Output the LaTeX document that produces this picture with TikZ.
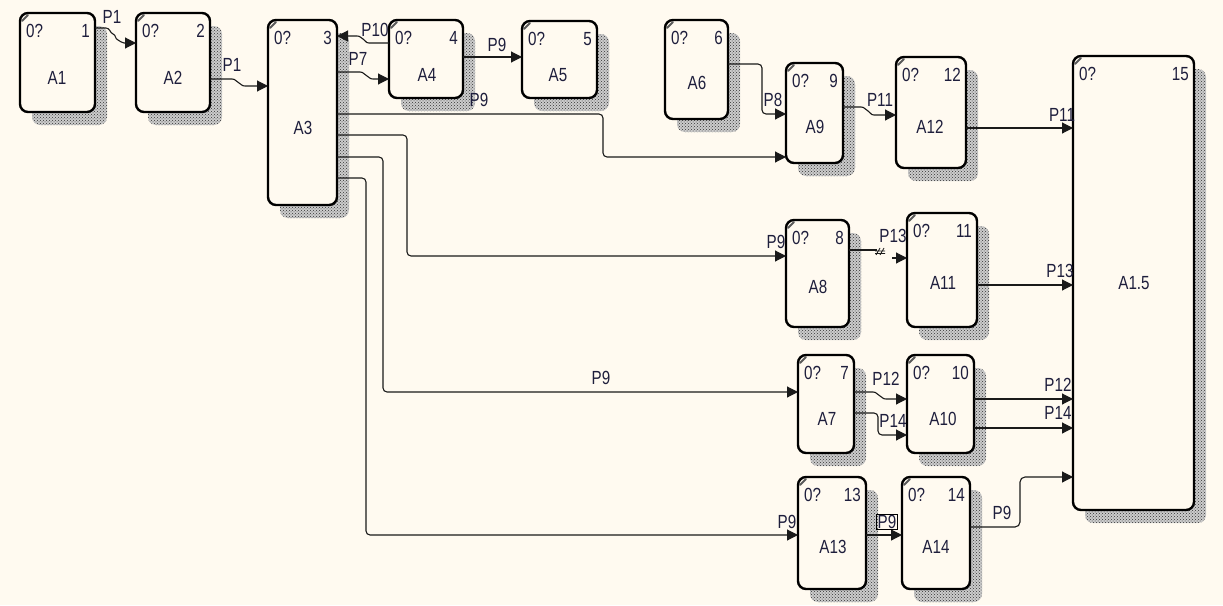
\documentclass[tikz,border=0pt]{standalone}
\usepackage{fontspec}
\setmainfont{Liberation Sans}[FakeStretch=0.8]
\usetikzlibrary{arrows.meta,patterns}
\definecolor{bg}{HTML}{FFFAF0}
\definecolor{txt}{HTML}{1E1E3C}
\definecolor{ln}{HTML}{1A1A1A}
\tikzset{
  box/.style={draw=black, line width=2.4pt, rounded corners=8pt, fill=bg, inner sep=0pt, outer sep=0pt},
  tag/.style={font=\fontsize{19}{21}\selectfont, text=txt, inner sep=0pt},
  lbl/.style={font=\fontsize{19}{21}\selectfont, text=txt, inner sep=0.5pt},
  arr/.style={draw=ln, line width=1.1pt, -{Triangle[length=11pt,width=11pt]}},
  wire/.style={draw=ln, line width=1.1pt},
  shad/.style={fill=gray!40, rounded corners=8pt},
  shadp/.style={pattern=crosshatch dots, pattern color=black!80, rounded corners=8pt}
}
\newcommand{\idefbox}[9]{%
  \fill[shad] (#2+12,#3+13) rectangle (#4+12,#5+13);
  \fill[shadp] (#2+12,#3+13) rectangle (#4+12,#5+13);
  \node[box, minimum width={(#4-#2)*1pt}, minimum height={(#5-#3)*1pt}] (#1) at ({(#2+#4)/2},{(#3+#5)/2}) {};
  \node[tag, anchor=west] (#1q) at ([xshift=6pt,yshift=-18pt]#1.north west) {0?};
  \node[tag, anchor=east] (#1n) at ([xshift=-5pt,yshift=-18pt]#1.north east) {#6};
  \node[tag] (#1t) at (#8,#9) {#7};
  \draw[gray!70!black, line width=2pt, line cap=round] ([xshift=2pt,yshift=-8pt]#1.north west) -- ([xshift=8pt,yshift=-2pt]#1.north west);
}
\begin{document}
\begin{tikzpicture}[x=1pt,y=-1pt]
\fill[bg] (0,0) rectangle (1223,605);
\useasboundingbox (0,0) rectangle (1223,605);

\idefbox{A1}{20}{13}{95}{112}{1}{A1}{57}{78}
\idefbox{A2}{136}{13}{210}{112}{2}{A2}{173}{78}
\idefbox{A3}{268}{20}{337}{205}{3}{A3}{303}{128}
\idefbox{A4}{389}{20}{463}{98}{4}{A4}{427}{75}
\idefbox{A5}{522}{21}{597}{98}{5}{A5}{558}{75}
\idefbox{A6}{665}{20}{728}{119}{6}{A6}{697}{83}
\idefbox{A9}{786}{63}{843}{163}{9}{A9}{815}{127}
\idefbox{A12}{896}{57}{966}{168}{12}{A12}{930}{127}
\idefbox{A8}{786}{220}{849}{327}{8}{A8}{818}{287}
\idefbox{A11}{907}{213}{977}{327}{11}{A11}{943}{283}
\idefbox{A7}{798}{355}{854}{453}{7}{A7}{827}{419}
\idefbox{A10}{907}{355}{974}{453}{10}{A10}{943}{419}
\idefbox{A13}{798}{477}{866}{589}{13}{A13}{833}{547}
\idefbox{A14}{902}{477}{970}{589}{14}{A14}{936}{547}
\idefbox{A15}{1073}{56}{1194}{510}{15}{A1.5}{1134}{283}

% A1 -> A2  P1
\draw[arr] (A1.east |- 0,28) -- (106,28) .. controls (110,28) and (110,33) .. (113,34)
  .. controls (116,35) and (115,39) .. (118,40) .. controls (121,41) and (121,43) .. (124,43) -- (A2.west |- 0,43);
\node[lbl] (p1a) at (112,17) {P1};
% A2 -> A3  P1
\draw[arr] (A2.east |- 0,79) -- (232,79) .. controls (236,79) and (236,82) .. (239,83)
  .. controls (242,84) and (241,86) .. (245,86) -- (A3.west |- 0,86);
\node[lbl] (p1b) at (232,65) {P1};
% A3 -> A4  P7
\draw[arr] (A3.east |- 0,72) -- (360,72) .. controls (364,72) and (364,75) .. (367,76)
  .. controls (370,77) and (369,79) .. (373,79) -- (A4.west |- 0,79);
\node[lbl] (p7) at (358,59) {P7};
% A4 -> A3  P10
\draw[arr] (A4.west |- 0,43) -- (369,43) .. controls (365,43) and (366,40) .. (363,39)
  .. controls (360,38) and (361,36) .. (357,36) -- (A3.east |- 0,36);
\node[lbl] (p10) at (375,30) {P10};
% A4 -> A5  P9
\draw[arr] (A4.east |- 0,57) -- (A5.west |- 0,57);
\node[lbl] (p9a) at (497,45) {P9};
% A3 -> A9  P9
\draw[arr, rounded corners=4pt] (A3.east |- 0,114) -- (603,114) -- (603,157) -- (A9.west |- 0,157);
\node[lbl] (p9b) at (479,100) {P9};
% A6 -> A9  P8
\draw[arr, rounded corners=4pt] (A6.east |- 0,64) -- (762,64) -- (762,114) -- (A9.west |- 0,114);
\node[lbl] (p8) at (773,100) {P8};
% A9 -> A12  P11
\draw[arr] (A9.east |- 0,107) -- (861,107) .. controls (865,107) and (865,110) .. (868,111)
  .. controls (871,112) and (870,115) .. (874,115) -- (A12.west |- 0,115);
\node[lbl] (p11a) at (880,100) {P11};
% A12 -> A15  P11
\draw[arr] (A12.east |- 0,128) -- (A15.west |- 0,128);
\node[lbl] (p11b) at (1062,115) {P11};
% A3 -> A8  P9
\draw[arr, rounded corners=4pt] (A3.east |- 0,135) -- (407,135) -- (407,256) -- (A8.west |- 0,256);
\node[lbl] (p9c) at (776,242) {P9};
% A8 -> A11  P13
\draw[wire] (A8.east |- 0,250) -- (877,250);
\draw[wire, line width=0.8pt] (876,255) -- (880,248) (880,255) -- (884,248) (875,251) -- (885,251) (875,253.5) -- (885,253.5);
\draw[arr] (892,258) -- (A11.west |- 0,258);
\node[lbl] (p13a) at (893,236) {P13};
% A11 -> A15  P13
\draw[arr] (A11.east |- 0,285) -- (A15.west |- 0,285);
\node[lbl] (p13b) at (1060,271) {P13};
% A3 -> A7  P9
\draw[arr, rounded corners=4pt] (A3.east |- 0,157) -- (383,157) -- (383,392) -- (A7.west |- 0,392);
\node[lbl] (p9d) at (601,378) {P9};
% A7 -> A10  P12
\draw[arr] (A7.east |- 0,392) -- (873,392) .. controls (877,392) and (877,395) .. (880,396)
  .. controls (883,397) and (882,399) .. (886,399) -- (A10.west |- 0,399);
\node[lbl] (p12a) at (886,379) {P12};
% A7 -> A10  P14
\draw[arr, rounded corners=4pt] (A7.east |- 0,413) -- (878,413) -- (878,435) -- (A10.west |- 0,435);
\node[lbl] (p14a) at (893,421) {P14};
% A10 -> A15  P12, P14
\draw[arr] (A10.east |- 0,399) -- (A15.west |- 0,399);
\node[lbl] (p12b) at (1058,385) {P12};
\draw[arr] (A10.east |- 0,428) -- (A15.west |- 0,428);
\node[lbl] (p14b) at (1058,413) {P14};
% A3 -> A13  P9
\draw[arr, rounded corners=4pt] (A3.east |- 0,178) -- (366,178) -- (366,535) -- (A13.west |- 0,535);
\node[lbl] (p9e) at (787,522) {P9};
% A13 -> A14  P9
\draw[arr] (A13.east |- 0,535) -- (A14.west |- 0,535);
\node[lbl, draw=black, line width=0.6pt, inner sep=1pt] (p9f) at (887,522) {P9};
% A14 -> A15  P9
\draw[arr, rounded corners=5pt] (A14.east |- 0,527) -- (1020,527) -- (1020,477) -- (A15.west |- 0,477);
\node[lbl] (p9g) at (1002,513) {P9};
\end{tikzpicture}
\end{document}
